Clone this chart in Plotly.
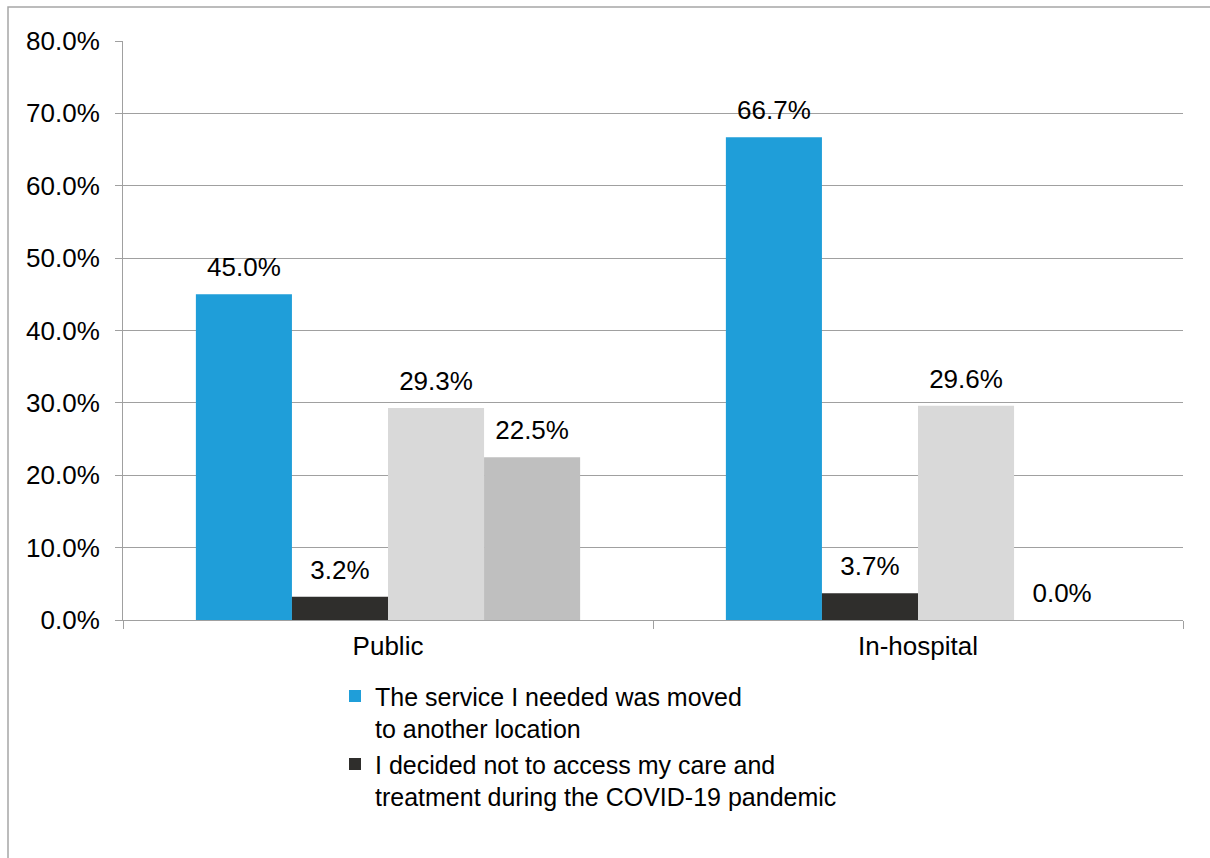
import plotly.graph_objects as go

categories = ["Public", "In-hospital"]
series_names = [
    "The service I needed was moved<br>to another location",
    "I decided not to access my care and<br>treatment during the COVID-19 pandemic",
    "Series 3",
    "Series 4",
]
series_values = [
    [45.0, 66.7],
    [3.2, 3.7],
    [29.3, 29.6],
    [22.5, 0.0],
]
series_colors = ["#1F9ED9", "#2F2E2C", "#D9D9D9", "#BFBFBF"]
series_in_legend = [True, True, False, False]

FONT = "Liberation Sans, Arial, sans-serif"

fig = go.Figure()
for i, (name, vals, col, show) in enumerate(zip(series_names, series_values, series_colors, series_in_legend)):
    fig.add_trace(go.Bar(
        x=categories, y=vals, name=name,
        marker=dict(color=col, line=dict(width=0)),
        showlegend=show, offsetgroup=str(i),
    ))
# value labels, grouped like the bars
for i, vals in enumerate(series_values):
    fig.add_trace(go.Scatter(
        x=categories, y=vals, mode="markers+text",
        text=[f"{v:.1f}%" for v in vals], textposition="top center",
        textfont=dict(size=26, color="#000000", family=FONT),
        marker=dict(size=17, opacity=0),
        offsetgroup=str(i), showlegend=False, hoverinfo="skip", cliponaxis=False,
    ))

fig.update_layout(
    width=1210, height=858,
    margin=dict(l=123, r=27, t=41, b=238),
    paper_bgcolor="white", plot_bgcolor="white",
    font=dict(family=FONT, size=26, color="#000000"),
    barmode="group", bargap=0.275, bargroupgap=0,
    scattermode="group", scattergap=0.275,
    showlegend=True,
    legend=dict(
        x=0.2, y=-0.092, xanchor="left", yanchor="top", valign="top",
        font=dict(size=25, family=FONT, color="#000000"),
        tracegroupgap=0, bgcolor="rgba(0,0,0,0)",
    ),
    xaxis=dict(
        showline=True, linecolor="#A0A0A0", linewidth=1,
        ticks="outside", tickson="boundaries", ticklen=8, tickcolor="#A0A0A0",
        showgrid=False, tickfont=dict(size=26), ticklabelstandoff=3,
    ),
    yaxis=dict(
        range=[0, 80], dtick=10, tickformat=".1f", ticksuffix="%",
        showline=True, linecolor="#A0A0A0", linewidth=1,
        ticks="outside", ticklen=7, tickcolor="#A0A0A0",
        showgrid=True, gridcolor="#A0A0A0", gridwidth=1,
        zeroline=False, tickfont=dict(size=26), ticklabelstandoff=10,
    ),
    shapes=[dict(
        type="rect", xref="paper", yref="paper",
        x0=(8 - 123) / 1060, x1=1.2, y0=-0.6, y1=(620 - 7) / 579,
        line=dict(color="#A6A6A6", width=1.5), fillcolor="rgba(0,0,0,0)",
        layer="below",
    )],
)

fig.write_html("out.html")
